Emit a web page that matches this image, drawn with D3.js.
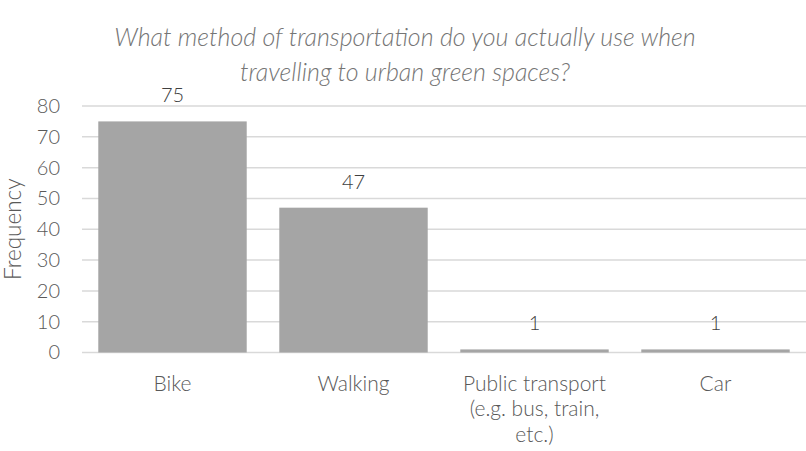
<!DOCTYPE html>
<html>
<head>
<meta charset="utf-8">
<script src="https://d3js.org/d3.v7.min.js"></script>
<style>
  body { margin: 0; background: #fff; font-family: "Lato", sans-serif; font-weight: 300; }
  .tick text { fill: #595959; font-size: 20px; font-family: "Lato", sans-serif; font-weight: 300; }
  .title { fill: #757575; font-size: 25px; font-style: italic; text-anchor: middle; }
  .value { fill: #404040; font-size: 20px; text-anchor: middle; }
  .cat { fill: #595959; font-size: 21px; text-anchor: middle; }
</style>
</head>
<body>
<script>
// data
var categories = [["Bike"], ["Walking"], ["Public transport", "(e.g. bus, train,", "etc.)"], ["Car"]];
var values = [75, 47, 1, 1];
var yTicks = [0, 10, 20, 30, 40, 50, 60, 70, 80];
var titleLines = ["What method of transportation do you actually use when", "travelling to urban green spaces?"];

var width = 806, height = 451;
var margin = {top: 106, right: 0, bottom: 98.5, left: 82};

var svg = d3.select('body').append('svg')
    .attr('width', width)
    .attr('height', height);

var x = d3.scaleBand()
    .domain(d3.range(categories.length))
    .range([margin.left, width - margin.right])
    .paddingInner(0.18)
    .paddingOuter(0.09);

var y = d3.scaleLinear()
    .domain([0, 80])
    .range([height - margin.bottom, margin.top]);

// gridlines
svg.append('g')
    .selectAll('line')
    .data(yTicks)
    .enter()
    .append('line')
    .attr('x1', margin.left)
    .attr('x2', width - margin.right)
    .attr('y1', function(d){ return y(d); })
    .attr('y2', function(d){ return y(d); })
    .attr('stroke', '#d9d9d9')
    .attr('stroke-width', 1.5);

// y axis labels
var yAxis = svg.append('g')
    .attr('transform', 'translate(60,0)')
    .call(d3.axisLeft(y).tickValues(yTicks).tickSize(0).tickPadding(0));
yAxis.select('.domain').remove();

svg.append('text')
    .attr('transform', 'translate(13,' + y(40) + ') rotate(-90)')
    .attr('text-anchor', 'middle')
    .attr('fill', '#595959')
    .attr('font-size', '22.5px')
    .attr('dy', '0.35em')
    .text('Frequency');

// bars
svg.append('g')
    .selectAll('rect')
    .data(values)
    .enter()
    .append('rect')
    .attr('x', function(d, i){ return x(i); })
    .attr('y', function(d){ return y(d); })
    .attr('width', x.bandwidth())
    .attr('height', function(d){ return y(0) - y(d); })
    .attr('fill', '#a5a5a5');

// value labels
svg.append('g')
    .selectAll('text')
    .data(values)
    .enter()
    .append('text')
    .attr('class', 'value')
    .attr('x', function(d, i){ return x(i) + x.bandwidth() / 2; })
    .attr('y', function(d){ return y(d) - 19; })
    .text(function(d){ return d; });

// category labels
var cats = svg.append('g')
    .selectAll('text')
    .data(categories)
    .enter()
    .append('text')
    .attr('class', 'cat')
    .attr('x', function(d, i){ return x(i) + x.bandwidth() / 2; })
    .attr('y', y(0) + 38);

cats.selectAll('tspan')
    .data(function(d){ return d; })
    .enter()
    .append('tspan')
    .attr('x', function(){ return d3.select(this.parentNode).attr('x'); })
    .attr('dy', function(d, i){ return i === 0 ? 0 : 25.5; })
    .text(function(d){ return d; });

// title
svg.append('text')
    .attr('class', 'title')
    .selectAll('tspan')
    .data(titleLines)
    .enter()
    .append('tspan')
    .attr('x', 405)
    .attr('y', function(d, i){ return 46 + i * 35; })
    .text(function(d){ return d; });
</script>
</body>
</html>
